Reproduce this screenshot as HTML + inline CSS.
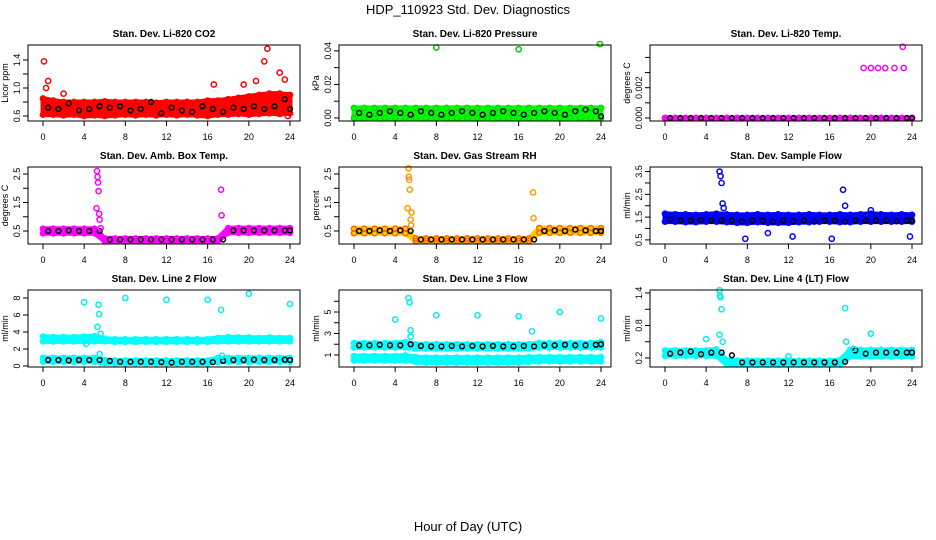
<!DOCTYPE html>
<html><head><meta charset="utf-8">
<style>
html,body{margin:0;padding:0;background:#fff;}
svg{display:block;font-family:"Liberation Sans",sans-serif;}
</style></head>
<body>
<svg id="c" width="936" height="540" viewBox="0 0 936 540">
<text x="468" y="14" font-size="13" text-anchor="middle">HDP_110923  Std. Dev. Diagnostics</text>
<text x="468" y="531" font-size="13" text-anchor="middle">Hour of Day (UTC)</text>
</svg>
<script>
const hours=[0,1,2,3,4,5,6,7,8,9,10,11,12,13,14,15,16,17,18,19,20,21,22,23,24];
const xTicks=[0,4,8,12,16,20,24];

const co2Lo=[0.62,0.62,0.61,0.62,0.60,0.61,0.60,0.61,0.62,0.61,0.62,0.61,0.62,0.61,0.62,0.61,0.60,0.62,0.62,0.63,0.62,0.63,0.64,0.63,0.64];
const co2Hi=[0.85,0.82,0.80,0.80,0.80,0.80,0.81,0.80,0.80,0.80,0.80,0.79,0.80,0.80,0.80,0.80,0.82,0.82,0.84,0.86,0.88,0.90,0.92,0.92,0.90];
const co2Black=[0.72,0.70,0.78,0.68,0.70,0.74,0.72,0.74,0.68,0.70,0.80,0.64,0.72,0.68,0.66,0.74,0.70,0.66,0.72,0.70,0.74,0.70,0.74,0.84,0.70];
const co2OutX=[0.1,0.3,0.5,2,16.6,19.5,20.7,21.5,21.8,23,23.5,23.8];
const co2OutY=[1.38,1.0,1.1,0.92,1.05,1.05,1.1,1.38,1.56,1.22,1.12,0.6];

const presLo=[0,0,0,0,0,0,0,0,0,0,0,0,0,0,0,0,0,0,0,0,0,0,0,0,0];
const presHi=[0.006,0.006,0.006,0.006,0.006,0.006,0.006,0.006,0.006,0.006,0.006,0.006,0.006,0.006,0.006,0.006,0.006,0.006,0.006,0.006,0.006,0.006,0.006,0.006,0.006];
const presBlack=[0.003,0.002,0.003,0.004,0.003,0.002,0.004,0.003,0.002,0.003,0.004,0.003,0.002,0.003,0.004,0.003,0.002,0.003,0.004,0.003,0.002,0.004,0.005,0.004,0.001];
const presOutX=[8,16,23.9];
const presOutY=[0.042,0.041,0.044];

const tempLo=[0,0,0,0,0,0,0,0,0,0,0,0,0,0,0,0,0,0,0,0,0,0,0,0,0];
const tempHi=[0,0,0,0,0,0,0,0,0,0,0,0,0,0,0,0,0,0,0,0,0,0,0,0,0];
const tempBlack=[0,0,0,0,0,0,0,0,0,0,0,0,0,0,0,0,0,0,0,0,0,0,0,0,0];
const tempOutX=[19.3,20,20.7,21.4,22.3,23.2,23.1];
const tempOutY=[0.0033,0.0033,0.0033,0.0033,0.0033,0.0033,0.0047];

const ambLo=[0.42,0.42,0.42,0.42,0.42,0.42,0.15,0.15,0.15,0.15,0.15,0.15,0.15,0.15,0.15,0.15,0.15,0.15,0.44,0.44,0.44,0.44,0.44,0.44,0.44];
const ambHi=[0.58,0.58,0.58,0.58,0.58,0.58,0.24,0.24,0.24,0.24,0.24,0.24,0.24,0.24,0.24,0.24,0.24,0.24,0.60,0.60,0.60,0.60,0.60,0.60,0.60];
const ambBlack=[0.5,0.5,0.52,0.5,0.5,0.5,0.2,0.2,0.2,0.2,0.2,0.2,0.2,0.2,0.2,0.2,0.2,0.2,0.52,0.52,0.52,0.52,0.52,0.52,0.52];
const ambOutX=[5.2,5.25,5.3,5.35,5.4,5.45,5.5,5.6,17.3,17.35];
const ambOutY=[1.3,2.6,2.4,2.2,1.9,1.1,0.9,0.6,1.95,1.05];

const rhLo=[0.42,0.42,0.42,0.42,0.42,0.42,0.15,0.15,0.15,0.15,0.15,0.15,0.15,0.15,0.15,0.15,0.15,0.15,0.44,0.44,0.44,0.44,0.44,0.44,0.44];
const rhHi=[0.58,0.58,0.58,0.58,0.58,0.58,0.24,0.24,0.24,0.24,0.24,0.24,0.24,0.24,0.24,0.24,0.24,0.24,0.60,0.60,0.60,0.60,0.60,0.60,0.60];
const rhBlack=[0.5,0.5,0.52,0.5,0.52,0.5,0.2,0.2,0.2,0.2,0.2,0.2,0.2,0.2,0.2,0.2,0.2,0.2,0.5,0.52,0.5,0.55,0.52,0.5,0.5];
const rhOutX=[5.2,5.3,5.32,5.36,5.42,5.5,5.55,5.6,17.4,17.45];
const rhOutY=[1.3,2.7,2.4,2.3,1.95,0.9,0.7,1.15,1.85,0.95];

const flowLo=[1.3,1.3,1.28,1.28,1.3,1.3,1.28,1.25,1.25,1.28,1.25,1.25,1.25,1.28,1.28,1.3,1.3,1.28,1.28,1.3,1.3,1.3,1.3,1.3,1.3];
const flowHi=[1.65,1.62,1.62,1.6,1.62,1.65,1.62,1.6,1.6,1.62,1.6,1.62,1.6,1.6,1.62,1.6,1.6,1.62,1.6,1.62,1.65,1.62,1.6,1.62,1.6];
const flowBlack=[1.4,1.35,1.35,1.38,1.35,1.35,1.35,1.32,1.35,1.35,1.3,1.35,1.32,1.35,1.3,1.35,1.35,1.3,1.35,1.35,1.35,1.35,1.32,1.35,1.35];
const flowOutX=[5.3,5.4,5.5,5.6,5.7,17.3,17.5,7.8,12.4,16.2,23.8,10,20];
const flowOutY=[3.5,3.3,3.0,2.1,1.9,2.7,2.0,0.55,0.65,0.55,0.65,0.8,1.8];

const l2Lo=[2.9,2.9,2.9,2.9,2.9,2.9,2.9,2.85,2.85,2.85,2.85,2.85,2.85,2.85,2.85,2.85,2.85,2.9,2.9,2.9,2.9,2.9,2.9,2.9,2.9];
const l2Hi=[3.45,3.4,3.4,3.4,3.45,3.5,3.2,3.15,3.15,3.15,3.15,3.15,3.15,3.15,3.15,3.15,3.15,3.3,3.4,3.35,3.35,3.3,3.35,3.3,3.3];
const l2LowLo=[0.5,0.5,0.5,0.5,0.5,0.5,0.35,0.3,0.3,0.3,0.3,0.3,0.3,0.3,0.3,0.3,0.3,0.5,0.5,0.5,0.5,0.5,0.5,0.5,0.5];
const l2LowHi=[0.95,0.95,0.95,0.95,0.95,0.95,0.7,0.65,0.65,0.65,0.65,0.65,0.65,0.65,0.65,0.65,0.65,0.95,0.95,0.95,0.95,0.95,0.95,0.95,0.95];
const l2Black=[0.7,0.7,0.65,0.7,0.7,0.7,0.6,0.5,0.5,0.5,0.5,0.45,0.4,0.5,0.5,0.5,0.45,0.6,0.7,0.7,0.75,0.7,0.7,0.75,0.7];
const l2OutX=[4,4.2,5.3,5.4,5.45,5.6,8,12,16,17.3,17.4,20,24,5.5];
const l2OutY=[7.5,2.6,4.6,7.2,6.1,3.8,8.0,7.8,7.8,6.6,1.2,8.5,7.3,1.4];

const l3Lo=[1.7,1.7,1.7,1.7,1.7,1.7,1.6,1.6,1.6,1.6,1.6,1.6,1.6,1.6,1.6,1.6,1.6,1.6,1.7,1.7,1.7,1.7,1.7,1.7,1.7];
const l3Hi=[2.1,2.1,2.1,2.1,2.1,2.2,2.0,2.0,2.0,2.0,2.0,2.0,2.0,2.0,2.0,2.0,2.0,2.0,2.1,2.1,2.1,2.1,2.1,2.1,2.2];
const l3LowLo=[0.5,0.5,0.5,0.5,0.5,0.5,0.35,0.3,0.3,0.3,0.3,0.3,0.3,0.3,0.3,0.3,0.3,0.35,0.4,0.4,0.4,0.4,0.4,0.4,0.4];
const l3LowHi=[0.9,0.9,0.9,0.9,0.9,0.95,0.8,0.75,0.75,0.75,0.75,0.75,0.75,0.75,0.75,0.75,0.75,0.8,0.8,0.8,0.8,0.8,0.8,0.8,0.8];
const l3Black=[1.9,1.9,1.95,1.9,1.9,2.0,1.85,1.8,1.8,1.85,1.8,1.85,1.8,1.85,1.8,1.8,1.85,1.8,1.9,1.9,1.95,1.9,1.9,1.95,2.0];
const l3OutX=[4,5.3,5.4,5.5,8,12,16,17.3,20,24,5.5];
const l3OutY=[4.3,6.3,5.9,2.7,4.7,4.7,4.6,3.2,5.0,4.4,3.3];

const l4Lo=[0.24,0.24,0.24,0.24,0.24,0.24,0.08,0.08,0.08,0.08,0.08,0.08,0.08,0.08,0.08,0.08,0.08,0.08,0.23,0.23,0.23,0.23,0.23,0.23,0.23];
const l4Hi=[0.34,0.34,0.34,0.34,0.34,0.36,0.16,0.15,0.15,0.15,0.15,0.15,0.15,0.15,0.15,0.15,0.15,0.16,0.35,0.35,0.35,0.35,0.35,0.35,0.35];
const l4Black=[0.28,0.3,0.32,0.27,0.3,0.3,0.25,0.12,0.12,0.12,0.12,0.12,0.12,0.12,0.12,0.12,0.12,0.13,0.34,0.28,0.3,0.3,0.3,0.3,0.3];
const l4OutX=[4,5.3,5.35,5.4,5.5,5.3,5.6,12,17.5,17.6,20,18.3];
const l4OutY=[0.55,1.45,1.35,1.32,1.1,0.63,0.5,0.23,1.12,0.5,0.65,0.37];

const NS="http://www.w3.org/2000/svg";
const svg=document.getElementById('c');
function mk(tag,attrs,parent){const e=document.createElementNS(NS,tag);for(const k in attrs)e.setAttribute(k,attrs[k]);(parent||svg).appendChild(e);return e;}

const colLeft=[28,339,650];
const rowTop=[45,167,290];
const rowBot=[121,244,367];

function panel(p){
  const L=colLeft[p.col],R=L+272,T=rowTop[p.row],B=rowBot[p.row];
  const g=mk('g',{});
  
  
  const sx=h=>L+15+h*(247/24);
  const sy=v=>B-(v-p.ymin)/(p.ymax-p.ymin)*(B-T);
  const t=mk('text',{x:(L+R)/2,y:T-8,'font-size':10,'font-weight':'bold','text-anchor':'middle'},g);
  t.textContent=p.title;
  
  
  p.bands.forEach(b=>{
    let d='';
    hours.forEach((h,i)=>{d+=(i?'L':'M')+sx(h)+' '+sy(b.hi[i]);});
    for(let i=hours.length-1;i>=0;i--)d+='L'+sx(hours[i])+' '+sy(b.lo[i]);
    const a=mk('path',{d:d+'Z',fill:b.fill,stroke:b.fill,'stroke-width':5,'stroke-linejoin':'round'},g);
    
    
    [b.lo,b.hi].forEach(arr=>hours.forEach((h,i)=>{
      const c=mk('circle',{cx:sx(h),cy:sy(arr[i]),r:2.6,fill:'none',stroke:b.stroke,'stroke-width':1.5},g);
      
      
    }));
  });
  hours.forEach((h,i)=>{
    const off=(i<24)?0.5:0;
    const c=mk('circle',{cx:sx(h+off),cy:sy(p.black[i]),r:2.4,fill:'none',stroke:'#000','stroke-width':1.5},g);
    
    
  });
  p.outX.forEach((x,i)=>{
    const c=mk('circle',{cx:sx(x),cy:sy(p.outY[i]),r:2.6,fill:'none',stroke:p.outColor,'stroke-width':1.5},g);
    
    
  });
  const box=mk('rect',{x:L,y:T,width:R-L,height:B-T,fill:'none',stroke:'#000','stroke-width':1},g);
  
  
  xTicks.forEach(h=>{
    mk('line',{x1:sx(h),x2:sx(h),y1:B,y2:B+5,stroke:'#000'},g);
    const tl=mk('text',{x:sx(h),y:B+19,'font-size':9,'text-anchor':'middle'},g);
    tl.textContent=h;
    
    
  });
  mk('line',{x1:sx(0),x2:sx(24),y1:B,y2:B,stroke:'#000'},g);
  p.ticks.forEach((v,i)=>{
    mk('line',{x1:L-5,x2:L,y1:sy(v),y2:sy(v),stroke:'#000'},g);
    if(p.labels[i]){
      const tl=mk('text',{x:0,y:0,'font-size':9,'text-anchor':'middle',transform:`translate(${L-8},${sy(v)}) rotate(-90)`},g);
      tl.textContent=p.labels[i];
      
      
    }
  });
  mk('line',{x1:L,x2:L,y1:sy(p.ticks[0]),y2:sy(p.ticks[p.ticks.length-1]),stroke:'#000'},g);
  const yt=mk('text',{x:0,y:0,'font-size':9,'text-anchor':'middle',transform:`translate(${L-20},${(T+B)/2}) rotate(-90)`},g);
  yt.textContent=p.ylab;
  
  
}

panel({name:'co2',col:0,row:0,title:'Stan. Dev. Li-820 CO2',ylab:'Licor ppm',ymin:0.529,ymax:1.614,ticks:[0.6,0.8,1.0,1.2,1.4],labels:['0.6','','1.0','','1.4'],bands:[{lo:co2Lo,hi:co2Hi,fill:'#ff0000',stroke:'#ff0000'}],black:co2Black,outX:co2OutX,outY:co2OutY,outColor:'#ff0000'});
panel({name:'pressure',col:1,row:0,title:'Stan. Dev. Li-820 Pressure',ylab:'kPa',ymin:-0.0018,ymax:0.0435,ticks:[0,0.01,0.02,0.03,0.04],labels:['0.00','','0.02','','0.04'],bands:[{lo:presLo,hi:presHi,fill:'#00ff00',stroke:'#00dd00'}],black:presBlack,outX:presOutX,outY:presOutY,outColor:'#00cc00'});
panel({name:'temp',col:2,row:0,title:'Stan. Dev. Li-820 Temp.',ylab:'degrees C',ymin:-0.0002,ymax:0.00482,ticks:[0,0.001,0.002,0.003,0.004],labels:['0.000','','0.002','',''],bands:[{lo:tempLo,hi:tempHi,fill:'#ff00ff',stroke:'#ff00ff'}],black:tempBlack,outX:tempOutX,outY:tempOutY,outColor:'#ff00ff'});
panel({name:'amb-box-temp',col:0,row:1,title:'Stan. Dev. Amb. Box Temp.',ylab:'degrees C',ymin:0.044,ymax:2.746,ticks:[0.5,1,1.5,2,2.5],labels:['0.5','','1.5','','2.5'],bands:[{lo:ambLo,hi:ambHi,fill:'#ff00ff',stroke:'#ff00ff'}],black:ambBlack,outX:ambOutX,outY:ambOutY,outColor:'#ff00ff'});
panel({name:'gas-rh',col:1,row:1,title:'Stan. Dev. Gas Stream RH',ylab:'percent',ymin:0.044,ymax:2.746,ticks:[0.5,1,1.5,2,2.5],labels:['0.5','','1.5','','2.5'],bands:[{lo:rhLo,hi:rhHi,fill:'#ffcc00',stroke:'#ff6600'}],black:rhBlack,outX:rhOutX,outY:rhOutY,outColor:'#ff9900'});
panel({name:'sample-flow',col:2,row:1,title:'Stan. Dev. Sample Flow',ylab:'ml/min',ymin:0.32,ymax:3.7,ticks:[0.5,1,1.5,2,2.5,3,3.5],labels:['0.5','','1.5','','2.5','','3.5'],bands:[{lo:flowLo,hi:flowHi,fill:'#0000ff',stroke:'#0000ff'}],black:flowBlack,outX:flowOutX,outY:flowOutY,outColor:'#0000ff'});
panel({name:'line2-flow',col:0,row:2,title:'Stan. Dev. Line 2 Flow',ylab:'ml/min',ymin:-0.12,ymax:8.94,ticks:[0,2,4,6,8],labels:['0','2','4','6','8'],bands:[{lo:l2Lo,hi:l2Hi,fill:'#00ffff',stroke:'#00ffff'},{lo:l2LowLo,hi:l2LowHi,fill:'#00ffff',stroke:'#00ffff'}],black:l2Black,outX:l2OutX,outY:l2OutY,outColor:'#00eeee'});
panel({name:'line3-flow',col:1,row:2,title:'Stan. Dev. Line 3 Flow',ylab:'ml/min',ymin:-0.12,ymax:7.05,ticks:[1,2,3,4,5,6],labels:['1','','3','','5',''],bands:[{lo:l3Lo,hi:l3Hi,fill:'#00ffff',stroke:'#00ffff'},{lo:l3LowLo,hi:l3LowHi,fill:'#00ffff',stroke:'#00ffff'}],black:l3Black,outX:l3OutX,outY:l3OutY,outColor:'#00eeee'});
panel({name:'line4-flow',col:2,row:2,title:'Stan. Dev. Line 4 (LT) Flow',ylab:'ml/min',ymin:0.034,ymax:1.455,ticks:[0.2,0.5,0.8,1.1,1.4],labels:['0.2','','0.8','','1.4'],bands:[{lo:l4Lo,hi:l4Hi,fill:'#00ffff',stroke:'#00ffff'}],black:l4Black,outX:l4OutX,outY:l4OutY,outColor:'#00eeee'});
</script>
</body></html>
